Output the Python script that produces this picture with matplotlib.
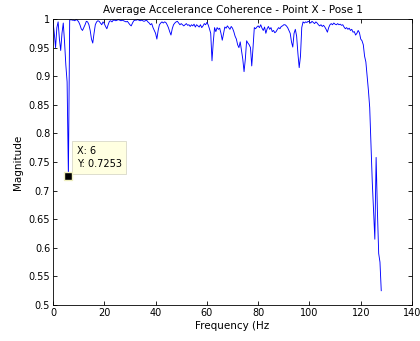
import numpy as np
import matplotlib
matplotlib.use('Agg')
import matplotlib.pyplot as plt

# frequency grid, 0.5 Hz resolution
freq = np.arange(0, 128.5, 0.5)

# average coherence magnitude (16 values = 8 Hz per row)
coh = [
    0.995, 0.975, 0.950, 0.985, 0.995, 0.965, 0.945, 0.975, 0.993, 0.960, 0.920, 0.890, 0.7253, 0.998, 0.999, 0.998,
    0.998, 0.997, 0.999, 0.998, 0.995, 0.990, 0.983, 0.980, 0.985, 0.990, 0.996, 0.995, 0.990, 0.980, 0.965, 0.958,
    0.975, 0.990, 0.995, 0.997, 0.996, 0.993, 0.990, 0.995, 0.992, 0.987, 0.983, 0.990, 0.996, 0.997, 0.995, 0.998,
    0.998, 0.997, 0.998, 0.999, 0.998, 0.997, 0.998, 0.997, 0.996, 0.995, 0.996, 0.993, 0.990, 0.988, 0.993, 0.997,
    0.998, 0.998, 0.999, 0.998, 0.997, 0.998, 0.997, 0.996, 0.997, 0.998, 0.995, 0.993, 0.990, 0.992, 0.985, 0.980,
    0.975, 0.965, 0.980, 0.990, 0.993, 0.995, 0.993, 0.995, 0.994, 0.990, 0.985, 0.978, 0.972, 0.983, 0.990, 0.993,
    0.995, 0.996, 0.993, 0.990, 0.992, 0.990, 0.988, 0.990, 0.992, 0.989, 0.990, 0.987, 0.990, 0.988, 0.991, 0.986,
    0.990, 0.988, 0.986, 0.990, 0.985, 0.988, 0.992, 0.990, 0.994, 0.990, 0.983, 0.975, 0.927, 0.960, 0.985, 0.978,
    0.985, 0.982, 0.984, 0.975, 0.963, 0.975, 0.986, 0.984, 0.988, 0.985, 0.982, 0.987, 0.984, 0.978, 0.970, 0.965,
    0.955, 0.950, 0.960, 0.945, 0.930, 0.908, 0.930, 0.962, 0.958, 0.955, 0.950, 0.918, 0.950, 0.985, 0.983, 0.986,
    0.988, 0.985, 0.990, 0.984, 0.980, 0.986, 0.975, 0.983, 0.987, 0.982, 0.985, 0.978, 0.980, 0.976, 0.978, 0.982,
    0.985, 0.983, 0.987, 0.988, 0.990, 0.990, 0.988, 0.985, 0.980, 0.975, 0.960, 0.951, 0.975, 0.982, 0.970, 0.940,
    0.915, 0.935, 0.985, 0.995, 0.993, 0.995, 0.994, 0.996, 0.995, 0.993, 0.996, 0.994, 0.992, 0.995, 0.993, 0.990,
    0.988, 0.990, 0.987, 0.989, 0.986, 0.982, 0.977, 0.985, 0.990, 0.992, 0.990, 0.993, 0.991, 0.990, 0.992, 0.990,
    0.991, 0.989, 0.990, 0.986, 0.983, 0.985, 0.982, 0.984, 0.980, 0.982, 0.977, 0.978, 0.972, 0.975, 0.980, 0.976,
    0.965, 0.962, 0.955, 0.935, 0.925, 0.900, 0.875, 0.845, 0.780, 0.715, 0.665, 0.615, 0.758, 0.665, 0.590, 0.575,
    0.525,
]

tip_x = 6
tip_y = 0.7253

fig = plt.figure(figsize=(4.2, 3.41), dpi=100)
ax = fig.add_axes([0.1262, 0.1056, 0.8548, 0.8386])

ax.plot(freq, coh, color='#0000ff', lw=0.65)

# data tip
ax.plot(tip_x, tip_y, 's', ms=5.5, mfc='black', mec='#f0f0c0', mew=1.0, zorder=5)
ax.annotate('X: %g\nY: %.4f' % (tip_x, tip_y), xy=(tip_x, tip_y), xytext=(6, 5),
            textcoords='offset points', fontsize=7, va='bottom', ha='left', linespacing=1.45,
            bbox=dict(boxstyle='square,pad=0.45', fc='#ffffe1', ec='#d8d8c8', lw=0.6))

ax.set_xlim(0, 140)
ax.set_ylim(0.5, 1.0)
ax.set_xticks(np.arange(0, 141, 20))
ax.set_yticks(np.arange(0.5, 1.001, 0.05))
ax.set_yticklabels(['0.5', '0.55', '0.6', '0.65', '0.7', '0.75', '0.8', '0.85', '0.9', '0.95', '1'])
ax.tick_params(direction='in', top=True, right=True, labelsize=7, length=3, width=0.6, pad=2)
for s in ax.spines.values():
    s.set_linewidth(0.6)

ax.set_title('Average Accelerance Coherence - Point X - Pose 1', fontsize=7.5, pad=4)
ax.set_xlabel('Frequency (Hz', fontsize=7.5, labelpad=2)
ax.set_ylabel('Magnitude', fontsize=7.5, labelpad=4)

fig.savefig('out.png', dpi=100)
